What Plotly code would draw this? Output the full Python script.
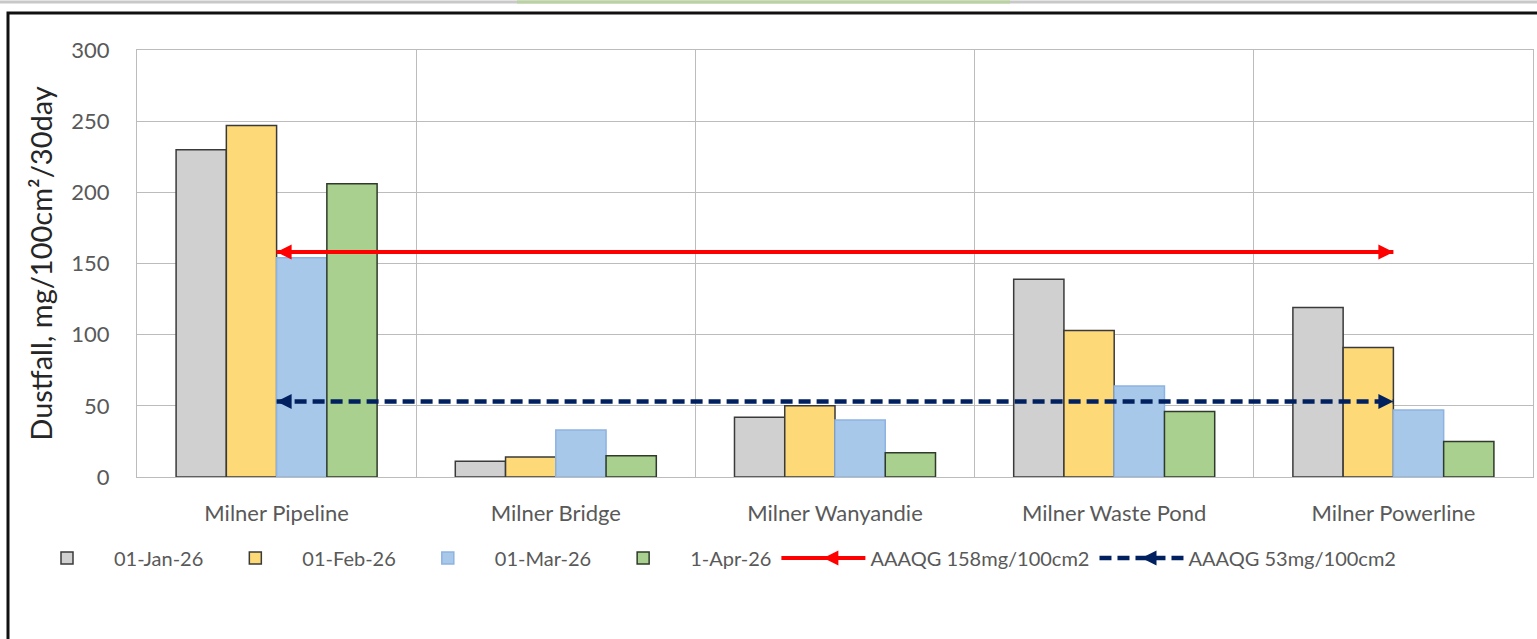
import plotly.graph_objects as go

# Dustfall monitoring sites and monthly results (mg/100cm²/30day)
sites = ["Milner Pipeline", "Milner Bridge", "Milner Wanyandie",
         "Milner Waste Pond", "Milner Powerline"]
jan_26 = [230, 11, 42, 139, 119]
feb_26 = [247, 14, 50, 103, 91]
mar_26 = [154, 33, 40, 64, 47]
apr_26 = [206, 15, 17, 46, 25]

# Alberta ambient air quality guideline levels
aaaqg_high = 158
aaaqg_low = 53

series = [
    ("01-Jan-26", jan_26, "#d0d0d0", "#3a3a3a"),
    ("01-Feb-26", feb_26, "#fed978", "#3a3a3a"),
    ("01-Mar-26", mar_26, "#a8c8ea", "#8db3e2"),
    ("1-Apr-26", apr_26, "#a9d08e", "#2f3a2a"),
]

FONT = "Lato"
TICK_GREY = "#595959"
GRID = "#bcbcbc"
W, H = 1537, 639
L, R, T, B = 137, 4, 50, 162

fig = go.Figure()

for name, vals, fill, edge in series:
    fig.add_trace(go.Bar(
        name=name, x=sites, y=vals,
        marker=dict(color=fill, line=dict(color=edge, width=1.5)),
    ))

ends = [sites[0], sites[-1]]
fig.add_trace(go.Scatter(
    name="AAAQG 158mg/100cm2", x=ends, y=[aaaqg_high] * 2,
    mode="lines+markers",
    line=dict(color="#ff0000", width=4),
    marker=dict(symbol=["arrow-left", "arrow-right"], size=15, color="#ff0000"),
))
fig.add_trace(go.Scatter(
    name="AAAQG 53mg/100cm2", x=ends, y=[aaaqg_low] * 2,
    mode="lines+markers",
    line=dict(color="#002060", width=4.5, dash="12px,6px"),
    marker=dict(symbol=["arrow-left", "arrow-right"], size=15, color="#002060"),
))


def px_x(p):
    return (p - L) / (W - L - R)


def px_y(p):
    return (H - B - p) / (H - T - B)


shapes = [
    # chart frame
    dict(type="rect", xref="paper", yref="paper",
         x0=px_x(8), x1=px_x(1545), y0=px_y(13), y1=px_y(660),
         line=dict(color="#111111", width=3), layer="below"),
    # sheet strip above the frame
    dict(type="line", xref="paper", yref="paper",
         x0=px_x(0), x1=px_x(1537), y0=px_y(2), y1=px_y(2),
         line=dict(color="#c8c8c8", width=3)),
    dict(type="line", xref="paper", yref="paper",
         x0=px_x(517), x1=px_x(1010), y0=px_y(2), y1=px_y(2),
         line=dict(color="#b9d3a0", width=3)),
]

fig.update_layout(
    width=W, height=H, autosize=False,
    margin=dict(l=L, r=R, t=T, b=B),
    paper_bgcolor="white", plot_bgcolor="white",
    font=dict(family=FONT, color=TICK_GREY),
    barmode="group", bargap=0.28, bargroupgap=0,
    shapes=shapes,
    legend=dict(
        orientation="h", xref="container", yref="container",
        x=20 / W, y=(H - 558) / H, xanchor="left", yanchor="middle",
        font=dict(size=20, color=TICK_GREY, family=FONT),
        itemwidth=84, traceorder="normal",
        bgcolor="rgba(0,0,0,0)",
    ),
    showlegend=True,
)

fig.update_xaxes(
    type="category", tickson="boundaries", showgrid=True,
    gridcolor=GRID, gridwidth=1.3,
    showline=True, linecolor=GRID, linewidth=1.3, mirror=True,
    ticks="", tickfont=dict(size=22, color=TICK_GREY, family=FONT),
    ticklabelstandoff=16,
)
fig.update_yaxes(
    range=[0, 300], dtick=50, showgrid=True,
    gridcolor=GRID, gridwidth=1.3, zeroline=False,
    showline=True, linecolor=GRID, linewidth=1.3, mirror=True,
    ticks="", tickfont=dict(size=22, color=TICK_GREY, family=FONT),
    ticklabelstandoff=22,
    title=dict(text="Dustfall, mg/100cm²/30day",
               font=dict(size=29, color="#262626", family=FONT), standoff=10),
)

fig.write_html("out.html")
